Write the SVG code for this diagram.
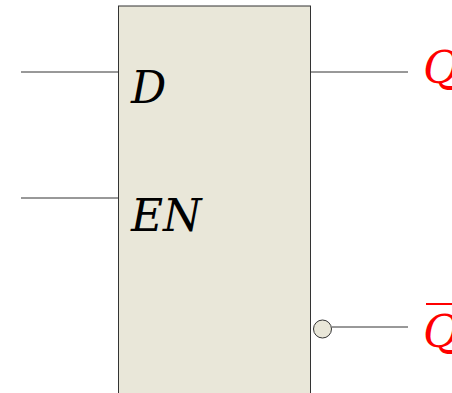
<svg xmlns="http://www.w3.org/2000/svg" width="452" height="393" viewBox="0 0 452 393">
<style>
.w{fill:none;stroke:#333;stroke-width:1}
.l{font-family:"DejaVu Serif",serif;font-style:italic;font-size:44px}
.k{fill:#000}
.r{fill:#f00}
</style>
<g id="body"><rect x="118.500" y="6" width="192" height="400" fill="#e9e7d9" stroke="#333" stroke-width="1"/></g>
<g id="connectors">
<path class="w" d="M21 72H118.500M21 198H118.500M310.500 72H408M332 327H408"/>
</g>
<g id="bubble"><circle cx="322.500" cy="329" r="9" fill="#e9e7d9" stroke="#333" stroke-width="1"/></g>
<g id="label-d"><text class="l k" x="131" y="103">D</text></g>
<g id="label-en"><text class="l k" x="131" y="231">EN</text></g>
<g id="label-q"><text class="l r" x="423" y="83">Q</text></g>
<g id="label-qbar"><text class="l r" x="423" y="347">Q</text><path d="M426 304H452" stroke="#f00" stroke-width="2" fill="none"/></g>
</svg>
